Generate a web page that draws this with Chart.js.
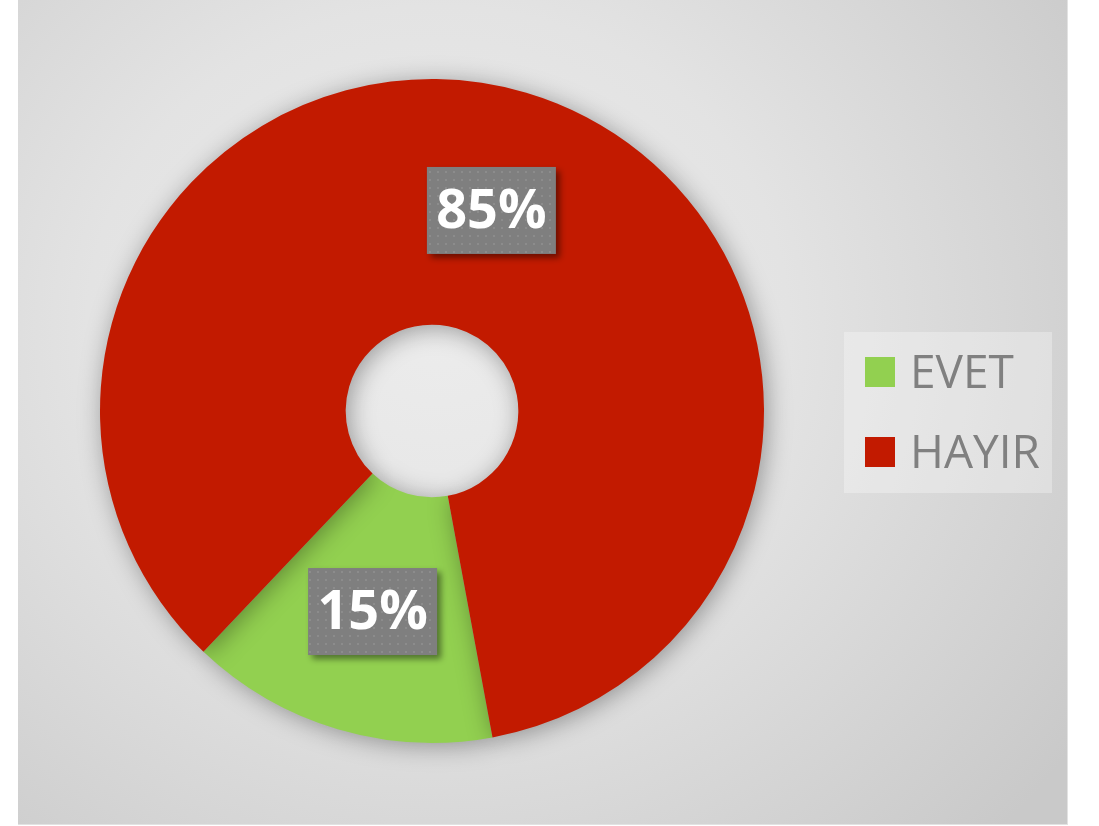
<!DOCTYPE html>
<html>
<head>
<meta charset="utf-8">
<script src="https://cdn.jsdelivr.net/npm/chart.js@4.4.0/dist/chart.umd.min.js"></script>
<style>
  body { margin: 0; background: #fff; }
  #panel {
    position: absolute; left: 18px; top: 0; width: 1049px; height: 824px;
    background: radial-gradient(ellipse 780px 720px at 420px 330px, #ececec 0%, #e3e3e3 45%, #c9c9c9 100%);
    border-right: 1px solid #e2e2e2; border-bottom: 1px solid #e2e2e2;
  }
  #chartBox { position: absolute; left: 0; top: 0; width: 1049px; height: 824px; }
  #legend {
    position: absolute; left: 826px; top: 332px; width: 208px; height: 161px;
    background: rgba(255, 255, 255, 0.3);
    font-family: 'Open Sans', sans-serif; font-size: 46px; color: #808080;
  }
  .item { position: absolute; left: 0; height: 50px; }
  .sw { position: absolute; left: 21px; top: 10px; width: 30px; height: 30px; }
  .txt { position: absolute; left: 66px; top: -8px; white-space: nowrap; }
</style>
</head>
<body>
<div id="panel">
  <div id="chartBox"><canvas id="myChart"></canvas></div>
  <div id="legend"></div>
</div>
<script>
'use strict'
const labels = ['EVET', 'HAYIR']
const values = [15, 85]
const colors = ['#92D050', '#C21A00']

// kutucuklar icin noktali desen
const makePattern = function(ctx) {
    let c = document.createElement('canvas')
    c.width = 8
    c.height = 8
    let p = c.getContext('2d')
    p.fillStyle = '#7f7f7f'
    p.fillRect(0, 0, 8, 8)
    p.fillStyle = '#8c8c8c'
    p.fillRect(3, 3, 2, 2)
    return ctx.createPattern(c, 'repeat')
}

const shadowPlugin = {
    id: 'shadow',
    beforeDatasetDraw(chart) {
        let ctx = chart.ctx
        ctx.save()
        ctx.shadowColor = 'rgba(0,0,0,0.35)'
        ctx.shadowBlur = 24
        ctx.shadowOffsetX = 3
        ctx.shadowOffsetY = 3
    },
    afterDatasetDraw(chart) {
        chart.ctx.restore()
    }
}

const labelPlugin = {
    id: 'pctLabels',
    afterDatasetsDraw(chart) {
        let ctx = chart.ctx
        let meta = chart.getDatasetMeta(0)
        let pattern = makePattern(ctx)
        let total = values.reduce((a, b) => a + b, 0)
        meta.data.forEach((arc, i) => {
            let pos = arc.tooltipPosition()
            let text = Math.round(values[i] / total * 100) + '%'
            let w = 129
            let h = 87
            ctx.save()
            ctx.shadowColor = 'rgba(0,0,0,0.45)'
            ctx.shadowBlur = 6
            ctx.shadowOffsetX = 4
            ctx.shadowOffsetY = 4
            ctx.fillStyle = pattern
            ctx.fillRect(pos.x - w / 2, pos.y - h / 2, w, h)
            ctx.restore()
            ctx.save()
            ctx.fillStyle = '#ffffff'
            ctx.font = 'bold 54px "Open Sans"'
            ctx.textAlign = 'center'
            ctx.textBaseline = 'middle'
            ctx.fillText(text, pos.x, pos.y + 2)
            ctx.restore()
        })
    }
}

const ctx = document.getElementById('myChart')

new Chart(ctx, {
    type: 'doughnut',
    data: {
        labels: labels,
        datasets: [{
            data: values,
            backgroundColor: colors,
            borderWidth: 0,
        }],
    },
    options: {
        responsive: true,
        maintainAspectRatio: false,
        animation: false,
        rotation: 169.5,
        cutout: '26%',
        layout: {
            padding: { left: 82, right: 303, top: 79, bottom: 81 }
        },
        plugins: {
            legend: { display: false },
            tooltip: { enabled: false },
        },
    },
    plugins: [shadowPlugin, labelPlugin],
})

// legend
let legend = document.getElementById('legend')
labels.forEach((name, i) => {
    let item = document.createElement('div')
    item.classList.add('item')
    item.style.top = (15 + i * 80) + 'px'
    let sw = document.createElement('div')
    sw.classList.add('sw')
    sw.style.background = colors[i]
    let t = document.createElement('div')
    t.classList.add('txt')
    t.textContent = name
    item.append(sw, t)
    legend.append(item)
})
</script>
</body>
</html>
